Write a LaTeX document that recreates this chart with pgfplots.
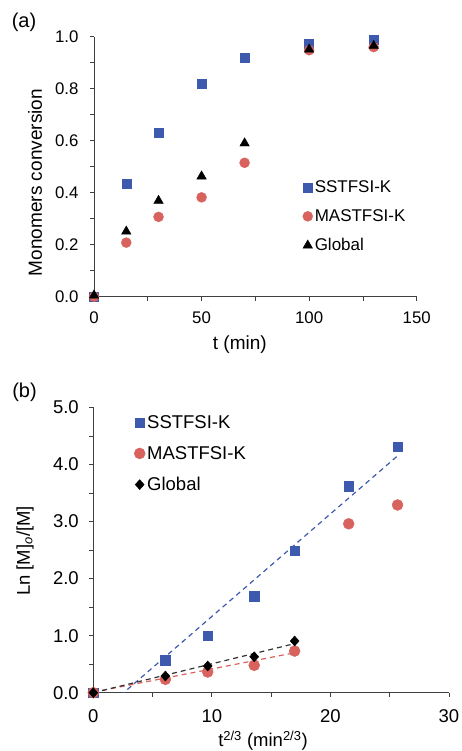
\documentclass[border=0pt]{standalone}
\usepackage{pgfplots}
\pgfplotsset{compat=1.18}
\usepackage{fontspec}
\setmainfont{Liberation Sans}
\definecolor{mblue}{HTML}{3D5AAE}
\definecolor{mred}{HTML}{D8625D}
\definecolor{axgray}{HTML}{404040}
\begin{document}
\begin{tikzpicture}
\path[use as bounding box] (0pt,0pt) rectangle (461pt,751pt);
\pgfplotsset{
  common/.style={
    scale only axis,
    axis lines*=left,
    axis line style={axgray, line width=1pt},
    tick style={axgray, line width=0.8pt},
    tick align=outside,
    major tick length=4pt,
    minor tick length=4pt,
    /pgf/number format/assume math mode=true,
    /pgf/number format/fixed,
    /pgf/number format/fixed zerofill,
    clip=false,
    legend cell align=left,
    legend style={draw=none, fill=none},
  }
}
% ---------- (a) ----------
\begin{axis}[common,
  at={(94pt,454.3pt)}, anchor=origin,
  width=322.7pt, height=260pt,
  xmin=0, xmax=150, ymin=0, ymax=1.0,
  xtick={0,50,100,150}, minor xtick={25,75,125},
  ytick={0,0.2,0.4,0.6,0.8,1.0}, minor ytick={0.1,0.3,0.5,0.7,0.9},
  xticklabel style={/pgf/number format/precision=0, /pgf/number format/fixed zerofill=false, yshift=-8pt},
  yticklabel style={/pgf/number format/precision=1, xshift=-8pt},
  tick label style={font=\fontsize{16.8}{19}\selectfont},
  label style={font=\fontsize{19}{21}\selectfont},
  xlabel={t (min)}, ylabel={Monomers conversion},
  xlabel style={at={(axis description cs:0.452,-0.1858)}, anchor=center},
  ylabel style={at={(axis description cs:-0.1828,0.439)}, anchor=center},
  legend style={at={(0.637,0.462)}, anchor=north west, font=\fontsize{17}{19}\selectfont, row sep=11.5pt},
  legend image post style={xshift=4pt},
  legend image code/.code={\draw[#1] plot coordinates {(0.1cm,0cm)};},
]
\addplot[only marks, mark=square*, mark size=4.5pt, mark options={mblue, fill=mblue}] coordinates {
(0,0) (15,0.433) (30,0.632) (50,0.818) (70,0.919) (100,0.973) (130,0.987)};
\addlegendentry{SSTFSI-K}
\addplot[only marks, mark=*, mark size=5pt, mark options={mred, fill=mred}] coordinates {
(0,0) (15,0.208) (30,0.307) (50,0.382) (70,0.515) (100,0.948) (130,0.96)};
\addlegendentry{MASTFSI-K}
\addplot[only marks, mark=triangle*, mark size=5.5pt, mark options={black, fill=black}] coordinates {
(0,0.005) (15,0.251) (30,0.369) (50,0.463) (70,0.59) (100,0.951) (130,0.965)};
\addlegendentry{Global}
\end{axis}
\node[font=\fontsize{20}{22}\selectfont] at (24pt,729pt) {(a)};
% ---------- (b) ----------
\begin{axis}[common,
  at={(93.3pt,58.3pt)}, anchor=origin,
  width=355.7pt, height=285.3pt,
  xmin=0, xmax=30, ymin=0, ymax=5.0,
  xtick={0,10,20,30}, minor xtick={5,15,25},
  ytick={0,1,2,3,4,5}, minor ytick={0.5,1.5,2.5,3.5,4.5},
  xticklabel style={/pgf/number format/precision=0, /pgf/number format/fixed zerofill=false, yshift=-9pt},
  yticklabel style={/pgf/number format/precision=1, xshift=-7pt},
  tick label style={font=\fontsize{18.5}{21}\selectfont},
  label style={font=\fontsize{18.5}{21}\selectfont},
  xlabel={t\textsuperscript{2/3} (min\textsuperscript{2/3})},
  ylabel={Ln [M]\textsubscript{\textit{o}}/[M]},
  xlabel style={at={(axis description cs:0.477,-0.168)}, anchor=center},
  ylabel style={at={(axis description cs:-0.192,0.497)}, anchor=center},
  legend style={at={(0.106,0.987)}, anchor=north west, font=\fontsize{18.5}{21}\selectfont, row sep=12.5pt},
  legend image post style={xshift=4pt},
  legend image code/.code={\draw[#1] plot coordinates {(0.1cm,0cm)};},
]
\begin{scope}
\clip (axis cs:0,0) rectangle (axis cs:30,5);
\addplot[forget plot, mblue, dashed, line width=1.2pt, dash pattern=on 5pt off 4pt] coordinates {(0,-0.46) (25.66,4.15)};
\end{scope}
\addplot[forget plot, mred, dashed, line width=1.2pt, dash pattern=on 5pt off 4pt] coordinates {(0,0.01) (16.98,0.70)};
\addplot[forget plot, black!80, dashed, line width=1.2pt, dash pattern=on 5pt off 4pt] coordinates {(0,0.0) (16.98,0.86)};
\addplot[only marks, mark=square*, mark size=4.7pt, mark options={mblue, fill=mblue}] coordinates {
(0,0) (6.08,0.573) (9.65,1.0) (13.57,1.69) (16.98,2.49) (21.54,3.62) (25.66,4.31)};
\addlegendentry{SSTFSI-K}
\addplot[only marks, mark=*, mark size=5.5pt, mark options={mred, fill=mred}] coordinates {
(0,0) (6.08,0.234) (9.65,0.363) (13.57,0.48) (16.98,0.73) (21.54,2.96) (25.66,3.29)};
\addlegendentry{MASTFSI-K}
\addplot[only marks, mark=diamond*, mark size=5pt, mark options={black, fill=black, xscale=1.2}] coordinates {
(0,0) (6.08,0.292) (9.65,0.468) (13.57,0.63) (16.98,0.906)};
\addlegendentry{Global}
\end{axis}
\node[font=\fontsize{20}{22}\selectfont] at (24.5pt,359pt) {(b)};
\end{tikzpicture}
\end{document}
